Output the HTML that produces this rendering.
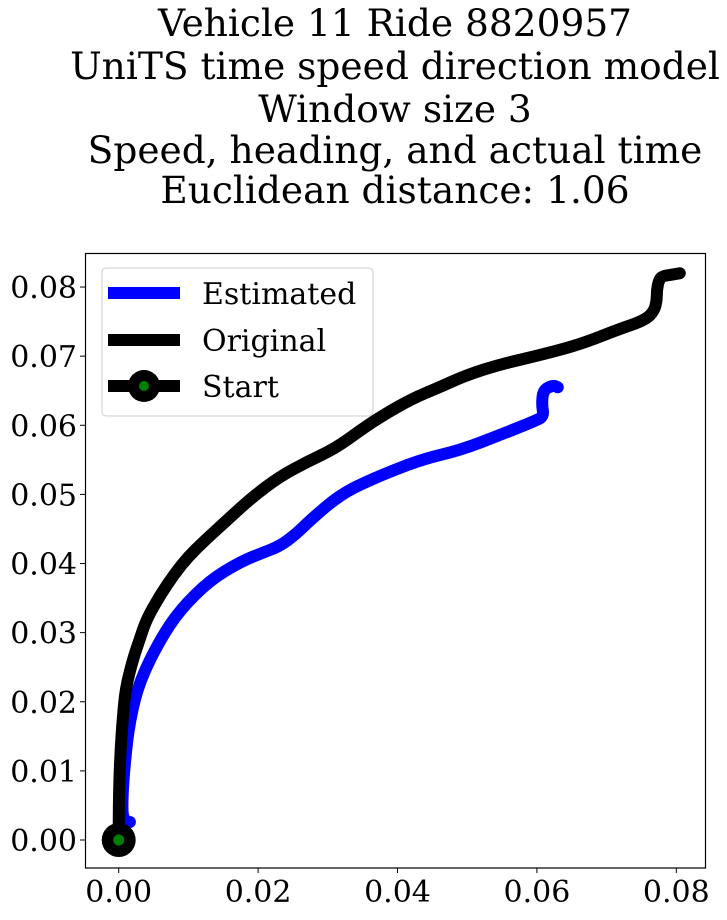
<!DOCTYPE html>
<html><head><meta charset="utf-8"><style>
body{margin:0;background:#fff}
svg text{font-family:"DejaVu Serif","Liberation Serif",serif;fill:#000}
</style></head><body>
<svg id="chart" width="727" height="915" xmlns="http://www.w3.org/2000/svg">
<g font-size="37.5" text-anchor="middle">
<text x="395" y="36">Vehicle 11 Ride 8820957</text>
<text x="395" y="79">UniTS time speed direction model</text>
<text x="395" y="122">Window size 3</text>
<text x="395" y="163">Speed, heading, and actual time</text>
<text x="395" y="203">Euclidean distance: 1.06</text>
</g>
<g id="axes"></g>
<g id="marks"></g>
<rect x="85.5" y="253.5" width="620" height="614.5" fill="none" stroke="#000" stroke-width="1.2"/>
<g>
<rect x="102" y="268" width="271" height="148" rx="4" fill="#fff" stroke="#ccc" stroke-width="1"/>
<g><line x1="108" y1="293" x2="180" y2="293" stroke="#0000ff" stroke-width="12"/><text x="202" y="304" font-size="30">Estimated</text></g>
<g><line x1="108" y1="340" x2="180" y2="340" stroke="#000" stroke-width="12"/><text x="202" y="351" font-size="30">Original</text></g>
<g><line x1="108" y1="386" x2="180" y2="386" stroke="#000" stroke-width="12"/><circle cx="144" cy="386" r="16" fill="#000"/><circle cx="144" cy="386" r="5" fill="#008000"/><text x="202" y="397" font-size="30">Start</text></g>
</g>
</svg>
<script>
const xTicks=[0,0.02,0.04,0.06,0.08];
const yTicks=[0,0.01,0.02,0.03,0.04,0.05,0.06,0.07,0.08];
const origX=[0,0,0.0002,0.0006,0.001,0.002,0.003,0.004,0.006,0.008,0.01,0.012,0.016,0.0193,0.023,0.027,0.031,0.035,0.038,0.042,0.046,0.05,0.0547,0.059,0.0633,0.067,0.0715,0.0755,0.0768,0.0772,0.0772,0.0775,0.078,0.0795,0.0805];
const origY=[0,0.005,0.012,0.018,0.022,0.026,0.029,0.032,0.0355,0.0385,0.041,0.043,0.0467,0.0497,0.0525,0.0547,0.0566,0.0595,0.0615,0.0638,0.0655,0.0673,0.0688,0.0698,0.0709,0.072,0.0738,0.0752,0.0765,0.078,0.0795,0.081,0.0816,0.0818,0.082];
const estX=[0.0016,0.0006,0.0005,0.0009,0.0016,0.003,0.0059,0.0088,0.0131,0.0174,0.0205,0.0231,0.0255,0.0275,0.0317,0.036,0.0432,0.049,0.0547,0.0597,0.061,0.0607,0.0609,0.0623,0.063];
const estY=[0.0026,0.0026,0.006,0.0116,0.0174,0.023,0.0289,0.0333,0.0376,0.0402,0.0415,0.0425,0.0443,0.0463,0.0499,0.0521,0.055,0.0564,0.0586,0.0606,0.0613,0.063,0.0651,0.0658,0.0655];
const startX=[0],startY=[0];
const NS="http://www.w3.org/2000/svg";
const sx=v=>118.7+v*6970, sy=v=>840-v*6912;
const axes=document.getElementById('axes'), marks=document.getElementById('marks');
function mk(t,a,p){const e=document.createElementNS(NS,t);for(const k in a)e.setAttribute(k,a[k]);p.appendChild(e);return e;}
xTicks.forEach(v=>{const g=mk('g',{},axes);


mk('line',{x1:sx(v),x2:sx(v),y1:868,y2:873,stroke:'#000'},g);
const t=mk('text',{x:sx(v),y:902,'font-size':30,'text-anchor':'middle'},g);t.textContent=v.toFixed(2);});
yTicks.forEach(v=>{const g=mk('g',{},axes);


mk('line',{x1:80,x2:85.5,y1:sy(v),y2:sy(v),stroke:'#000'},g);
const t=mk('text',{x:77,y:sy(v)+11,'font-size':30,'text-anchor':'end'},g);t.textContent=v.toFixed(2);});
function path(xs,ys,c,name){
const P=xs.map((x,i)=>[sx(x),sy(ys[i])]);
let d='M'+P[0][0].toFixed(1)+','+P[0][1].toFixed(1);
for(let i=1;i<P.length-1;i++){const mx=(P[i][0]+P[i+1][0])/2,my=(P[i][1]+P[i+1][1])/2;
d+='Q'+P[i][0].toFixed(1)+','+P[i][1].toFixed(1)+' '+mx.toFixed(1)+','+my.toFixed(1);}
d+='L'+P[P.length-1][0].toFixed(1)+','+P[P.length-1][1].toFixed(1);
const p=mk('path',{d:d,fill:'none',stroke:c,'stroke-width':12,'stroke-linejoin':'round','stroke-linecap':'round'},marks);

}
path(estX,estY,'#0000ff','estimated-line');
path(origX,origY,'#000','original-line');
const s=mk('g',{},marks);


mk('circle',{cx:sx(startX[0]),cy:sy(startY[0]),r:17,fill:'#000'},s);
mk('circle',{cx:sx(startX[0]),cy:sy(startY[0]),r:5.5,fill:'#008000'},s);
</script>
</body></html>
